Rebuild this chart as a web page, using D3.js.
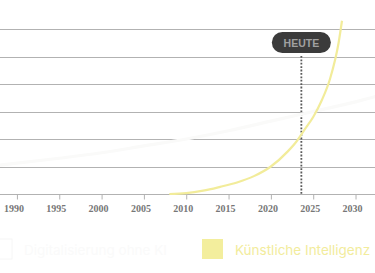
<!DOCTYPE html>
<html><head><meta charset="utf-8">
<script src="https://cdn.jsdelivr.net/npm/d3@7/dist/d3.min.js"></script>
<style>
html,body{margin:0;padding:0;background:#fff;}
svg{display:block;}
</style></head>
<body>
<svg id="c" width="375" height="273"></svg>
<script>
// Data
const kiYears   = [2008, 2010, 2012, 2014, 2016, 2018, 2020, 2022, 2023, 2024, 2025, 2026, 2027, 2028, 2028.4];
const kiValues  = [0, 0.03, 0.12, 0.26, 0.42, 0.65, 1.0, 1.55, 1.9, 2.35, 2.8, 3.4, 4.2, 5.5, 6.3];
const digYears  = [1988, 1995, 2000, 2005, 2010, 2015, 2020, 2025, 2030, 2033];
const digValues = [1.05, 1.3, 1.5, 1.75, 2.0, 2.3, 2.65, 3.0, 3.35, 3.6];
const xTicks = [1990, 1995, 2000, 2005, 2010, 2015, 2020, 2025, 2030];
const yGrid = [0, 1, 2, 3, 4, 5, 6];
const todayYear = 2023.6;
const todayLabel = "HEUTE";
const legendLabels = ["Digitalisierung ohne KI", "Künstliche Intelligenz"];

const svg = d3.select("#c");
const x = d3.scaleLinear().domain([1988, 2032.3]).range([0, 375]);
const y = d3.scaleLinear().domain([0, 6]).range([194, 29]);

// gridlines
svg.append("g").selectAll("line").data(yGrid).join("line")
  .attr("x1", 0).attr("x2", 375)
  .attr("y1", d => Math.round(y(d)) + 0.5).attr("y2", d => Math.round(y(d)) + 0.5)
  .attr("stroke", "#b2b2b2").attr("stroke-width", 1);

// x axis
const ax = svg.append("g").attr("transform", `translate(0,${Math.round(y(0)) + 0.5})`)
  .call(d3.axisBottom(x).tickValues(xTicks).tickSize(5).tickFormat(d3.format("d")));
ax.select(".domain").remove();
ax.selectAll(".tick line").attr("stroke", "#b2b2b2");
ax.selectAll(".tick text")
  .attr("fill", "#777").attr("font-family", "'Liberation Serif', serif")
  .attr("font-weight", "bold").attr("font-size", 10).attr("dx", -3.5).attr("dy", 9);

// today dotted line
svg.append("line")
  .attr("x1", x(todayYear)).attr("x2", x(todayYear))
  .attr("y1", 56).attr("y2", y(0))
  .attr("stroke", "#5a5a5a").attr("stroke-width", 1.8).attr("stroke-dasharray", "1.8,1.6");

// Digitalisierung line (near white)
const line = d3.line().x(d => x(d[0])).y(d => y(d[1])).curve(d3.curveMonotoneX);
svg.append("path").datum(d3.zip(digYears, digValues))
  .attr("d", line).attr("fill", "none")
  .attr("stroke", "#fafaf9").attr("stroke-width", 3.2);

// KI line
svg.append("path").datum(d3.zip(kiYears, kiValues))
  .attr("d", line).attr("fill", "none")
  .attr("stroke", "#f2ec9a").attr("stroke-width", 2.2);

// Today pill
const px = x(todayYear);
svg.append("rect").attr("x", px - 29.5).attr("y", 32).attr("width", 59).attr("height", 21)
  .attr("rx", 10.5).attr("fill", "#3b3b3b");
svg.append("text").attr("x", px).attr("y", 46.8).attr("text-anchor", "middle")
  .attr("font-family", "'Liberation Sans', Arial, sans-serif").attr("font-weight", "bold")
  .attr("font-size", 10.5).attr("fill", "#a0a0a0").text(todayLabel);

// legend
const legendX = [-9, 202];
const legendFill = ["#ffffff", "#f3ee9d"];
const legendStroke = ["#f6f6f6", "none"];
const legendText = ["#fafafa", "#f2ec9c"];
const lg = svg.append("g").selectAll("g").data(legendLabels).join("g")
  .attr("transform", (d, i) => `translate(${legendX[i]},239)`);
lg.append("rect").attr("width", 21).attr("height", 20)
  .attr("fill", (d, i) => legendFill[i]).attr("stroke", (d, i) => legendStroke[i]);
lg.append("text").attr("x", 33).attr("y", 15.5)
  .attr("font-family", "Inter, sans-serif").attr("font-size", 13.5)
  .attr("fill", (d, i) => legendText[i]).text(d => d);
</script>
</body></html>
